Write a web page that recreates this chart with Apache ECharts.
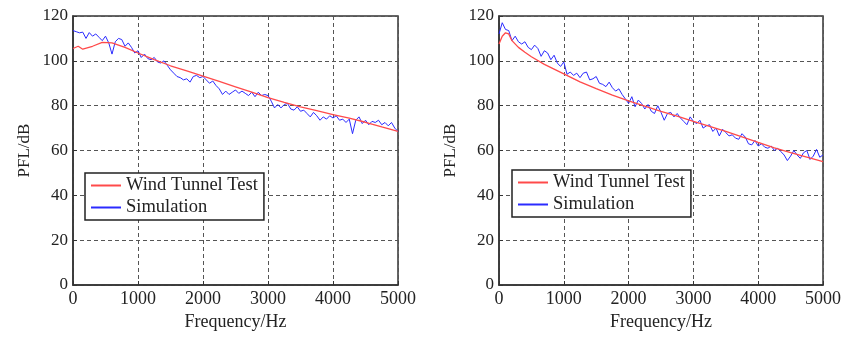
<!DOCTYPE html>
<html>
<head>
<meta charset="utf-8">
<script src="https://cdn.jsdelivr.net/npm/echarts@6/dist/echarts.min.js"></script>
<style>
html,body{margin:0;padding:0;background:#fff;}
#chart{width:865px;height:339px;}
</style>
</head>
<body>
<div id="chart"></div>
<script>
// ---- Data ----
const xTicks = [0, 1000, 2000, 3000, 4000, 5000];
const yTicks = [0, 20, 40, 60, 80, 100, 120];

const seriesNames = ['Wind Tunnel Test', 'Simulation'];

// Left panel
const leftTestFreq = [0, 80, 150, 300, 450, 600, 800, 1000, 1250, 1500, 1750, 2000, 2250, 2500, 2750, 3000, 3250, 3500, 3750, 4000, 4250, 4500, 4750, 5000];
const leftTestPFL  = [105.5, 106.5, 105.2, 106.5, 108.2, 108, 106, 103.5, 100.5, 97.8, 95.5, 93.2, 90.8, 88.4, 86, 83.6, 81.5, 79.5, 77.8, 76, 74.4, 72.6, 70.5, 68.5];

const simFreq = [0,50,100,150,200,250,300,350,400,450,500,550,600,650,700,750,800,850,900,950,
  1000,1050,1100,1150,1200,1250,1300,1350,1400,1450,1500,1550,1600,1650,1700,1750,1800,1850,1900,1950,
  2000,2050,2100,2150,2200,2250,2300,2350,2400,2450,2500,2550,2600,2650,2700,2750,2800,2850,2900,2950,
  3000,3050,3100,3150,3200,3250,3300,3350,3400,3450,3500,3550,3600,3650,3700,3750,3800,3850,3900,3950,
  4000,4050,4100,4150,4200,4250,4300,4350,4400,4450,4500,4550,4600,4650,4700,4750,4800,4850,4900,4950,5000];

const leftSimPFL = [113.5,113,112.5,112.8,110,112.6,111,112,110.5,109,111,108,103,108.5,110,109.5,106.5,108,106,103.5,
  104.5,101.5,103,101,100.5,101.5,99.5,99,100,98,96,94.5,93,92.5,91.5,92,90.5,93,93.5,92.5,
  93,91.5,90,91,89,87.5,85,86.5,85,86,87,85.5,86.5,85.5,84.5,86,84,86,84.5,85,
  84.5,82,79,80.5,79,80.5,81,78.5,78,79.5,77.5,78,76.5,75,77,75.5,73.5,75,74,75.5,
  74.5,75.5,73.5,74,72.5,74,67.5,73.5,75,72,73.5,71.5,73,72.5,73.5,71.5,72.5,71,72.5,70,68.5];

// Right panel
const rightTestFreq = [0, 50, 100, 150, 200, 300, 400, 500, 700, 1000, 1250, 1500, 1750, 2000, 2250, 2500, 2750, 3000, 3250, 3500, 3750, 4000, 4250, 4500, 4750, 5000];
const rightTestPFL  = [107.5, 111, 112.5, 112, 109, 106, 103.8, 101.8, 98.4, 94.2, 90.6, 87.6, 84.7, 82.1, 79.8, 77.5, 75.3, 73, 70.8, 68.5, 66.1, 63.6, 61.2, 59, 57, 55];

const rightSimPFL = [112,117,114,113.5,109,111,108.5,107.5,108.5,106,105,107,105.5,102,104.5,103.5,100.5,102.5,99,97.5,
  99.5,94,95,93.5,94.5,92.5,94.5,95,91.5,92,93,90,89.5,88.5,90.5,88,86.5,87.5,85,83,
  81,84,79.5,82.5,81,78.5,80.5,77.5,76.5,80,77,73.5,76.5,77,75,76.5,74.5,73,71.5,75,
  73,72,73.5,70,71,71.5,68.5,70,66.5,69.5,68,66.5,67,65.5,65,67.5,66,63,62.5,64.5,
  62,63,61.5,61,62,60,61,59.5,58,55.5,57.5,60,58,56.5,59,60,56,57.5,60.5,57,58];

// ---- Helpers ----
const pair = (xs, ys) => xs.map((x, i) => [x, ys[i]]);
const FONT = 'Liberation Serif';
const TXT = '#222';
const RED = '#ff4a4a';
const BLUE = '#2b2bff';

function xAxisFor(gi) {
  return {
    type: 'value', gridIndex: gi, min: xTicks[0], max: xTicks[xTicks.length - 1], interval: 1000,
    name: 'Frequency/Hz', nameLocation: 'middle', nameGap: 24,
    nameTextStyle: { fontFamily: FONT, fontSize: 18, color: TXT },
    axisLine: { show: true, lineStyle: { color: '#333', width: 1.5 } },
    axisTick: { show: true, inside: true, length: 4, lineStyle: { color: '#333' } },
    axisLabel: { fontFamily: FONT, fontSize: 18, color: TXT, margin: 5, formatter: v => String(v) },
    splitLine: { show: true, lineStyle: { color: '#555', type: [4, 3], width: 1 } }
  };
}
function yAxisFor(gi) {
  return {
    type: 'value', gridIndex: gi, min: yTicks[0], max: yTicks[yTicks.length - 1], interval: 20,
    name: 'PFL/dB', nameLocation: 'middle', nameGap: 40,
    nameTextStyle: { fontFamily: FONT, fontSize: 17, color: TXT },
    axisLine: { show: true, lineStyle: { color: '#333', width: 1.5 } },
    axisTick: { show: true, inside: true, length: 4, lineStyle: { color: '#333' } },
    axisLabel: { fontFamily: FONT, fontSize: 17, color: TXT, margin: 5, formatter: v => String(v) },
    splitLine: { show: true, lineStyle: { color: '#555', type: [4, 3], width: 1 } }
  };
}
function legendFor(left, top) {
  return {
    left: left, top: top, orient: 'vertical',
    data: seriesNames,
    icon: 'rect',
    itemWidth: 30, itemHeight: 2, itemGap: 3,
    padding: [3, 6, 3, 6],
    borderColor: '#222', borderWidth: 1.5, backgroundColor: '#fff',
    textStyle: { fontFamily: FONT, fontSize: 18.5, color: TXT },
    selectedMode: false
  };
}
function line(name, gi, data, color, w) {
  return {
    name: name, type: 'line', xAxisIndex: gi, yAxisIndex: gi, data: data,
    symbol: 'none', showSymbol: false, smooth: false, animation: false,
    lineStyle: { color: color, width: w }, itemStyle: { color: color }
  };
}

const chart = echarts.init(document.getElementById('chart'), null, { renderer: 'canvas' });
chart.setOption({
  backgroundColor: '#fff',
  animation: false,
  grid: [
    { left: 73, right: 467, top: 16, bottom: 54, show: true, borderColor: '#333', borderWidth: 1.5, backgroundColor: 'transparent' },
    { left: 499, right: 42, top: 16, bottom: 54, show: true, borderColor: '#333', borderWidth: 1.5, backgroundColor: 'transparent' }
  ],
  xAxis: [xAxisFor(0), xAxisFor(1)],
  yAxis: [yAxisFor(0), yAxisFor(1)],
  legend: [legendFor(85, 173), legendFor(512, 170)],
  series: [
    line(seriesNames[1], 0, pair(simFreq, leftSimPFL), BLUE, 1),
    line(seriesNames[0], 0, pair(leftTestFreq, leftTestPFL), RED, 1.3),
    line(seriesNames[1], 1, pair(simFreq, rightSimPFL), BLUE, 1),
    line(seriesNames[0], 1, pair(rightTestFreq, rightTestPFL), RED, 1.3)
  ]
});
</script>
</body>
</html>
